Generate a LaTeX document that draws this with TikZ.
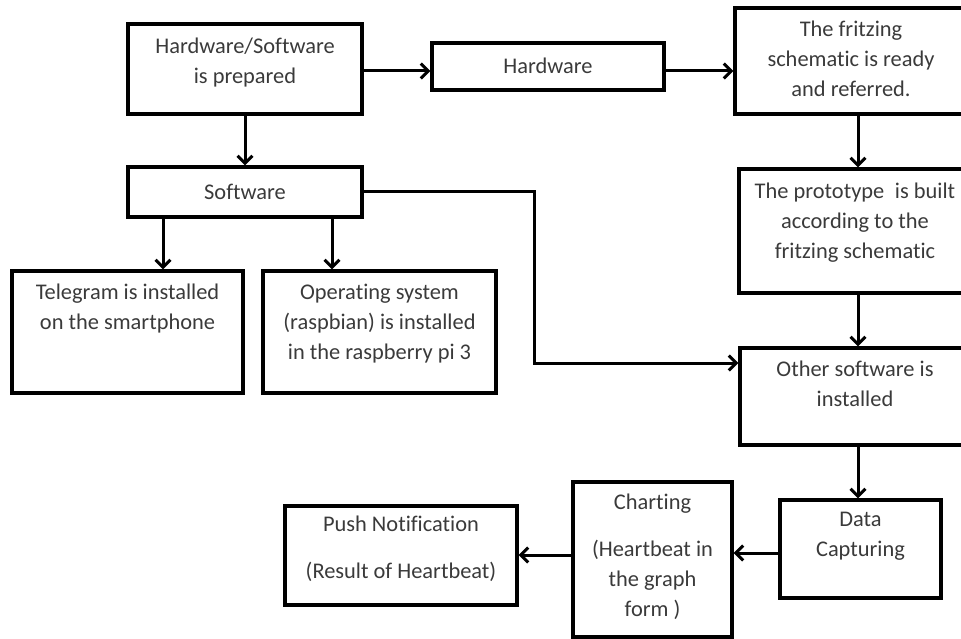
\documentclass[tikz,border=0pt]{standalone}
\usepackage{fontspec}
\setmainfont{Carlito}[Ligatures={NoCommon,NoRare,NoContextual}]
\usetikzlibrary{arrows.meta}
\definecolor{inkgray}{RGB}{58,58,58}
\begin{document}
\begin{tikzpicture}[x=1pt,y=-1pt,
  box/.style={draw, line width=3.2pt, inner sep=0pt},
  txt/.style={anchor=north, align=center, inner sep=0pt, text=inkgray,
    font=\fontsize{22.4}{30}\selectfont, execute at begin node=\strut},
  arr/.style={line width=3pt, -{Straight Barb[length=7.5pt,width=15pt]}}]
\useasboundingbox (0,0) rectangle (961,639);

% boxes
\node[box, minimum width=234, minimum height=90]  (A)  at (245,69)    {};
\node[box, minimum width=232, minimum height=47]  (H)  at (548,66.5)  {};
\node[box, minimum width=236, minimum height=106] (F)  at (853,61)    {};
\node[box, minimum width=234, minimum height=50]  (S)  at (245,192)   {};
\node[box, minimum width=232, minimum height=124] (P)  at (855,231)   {};
\node[box, minimum width=231, minimum height=122] (T)  at (127.5,332) {};
\node[box, minimum width=233, minimum height=122] (O)  at (379.5,332) {};
\node[box, minimum width=231, minimum height=97]  (OS) at (855.5,396.5) {};
\node[box, minimum width=161, minimum height=98]  (D)  at (860.5,549) {};
\node[box, minimum width=159, minimum height=155] (C)  at (652.5,559.5) {};
\node[box, minimum width=232, minimum height=99]  (PN) at (401,555.5)  {};

% box texts
\node[txt] (tA)  at (245,38)    {Hardware/Software\\is prepared};
\node[txt] (tH)  at (548,52)    {Hardware};
\node[txt] (tF)  at (851,21)    {The fritzing\\schematic is ready\\and referred.};
\node[txt] (tS)  at (245,178)   {Software};
\node[txt] (tP)  at (855,183)   {The prototype\hspace{0.25em} is built\\according to the\\fritzing schematic};
\node[txt] (tT)  at (127.5,284) {Telegram is installed\\on the smartphone};
\node[txt] (tO)  at (379.5,284) {Operating system\\(raspbian) is installed\\in the raspberry pi 3};
\node[txt] (tOS) at (855,361)   {Other software is\\installed};
\node[txt] (tD)  at (860.5,512) {Data\\Capturing};
\node[txt] (tC)  at (652.5,494) {Charting\\[17pt](Heartbeat in\\the graph\\form )};
\node[txt] (tPN) at (401,516)   {Push Notification\\[17pt](Result of Heartbeat)};

% connector lanes
\coordinate (rowTop)  at (0,71);
\coordinate (laneTel) at (163,0);
\coordinate (laneOS)  at (332,0);
\coordinate (bend)    at (534,363);
\coordinate (laneR)   at (858,0);
\coordinate (rowD)    at (0,553);
\coordinate (rowC)    at (0,555);

% connectors
\draw[arr] (A.east |- rowTop) -- (H.west |- rowTop);
\draw[arr] (H.east |- rowTop) -- (F.west |- rowTop);
\draw[arr] (A.south) -- (S.north);
\draw[arr] (S.south -| laneTel) -- (T.north -| laneTel);
\draw[arr] (S.south -| laneOS) -- (O.north -| laneOS);
\draw[arr] (S.east) -| (bend) -- (OS.west |- bend);
\draw[arr] (F.south -| laneR) -- (P.north -| laneR);
\draw[arr] (P.south -| laneR) -- (OS.north -| laneR);
\draw[arr] (OS.south -| laneR) -- (D.north -| laneR);
\draw[arr] (D.west |- rowD) -- (C.east |- rowD);
\draw[arr] (C.west |- rowC) -- (PN.east |- rowC);
\end{tikzpicture}
\end{document}
